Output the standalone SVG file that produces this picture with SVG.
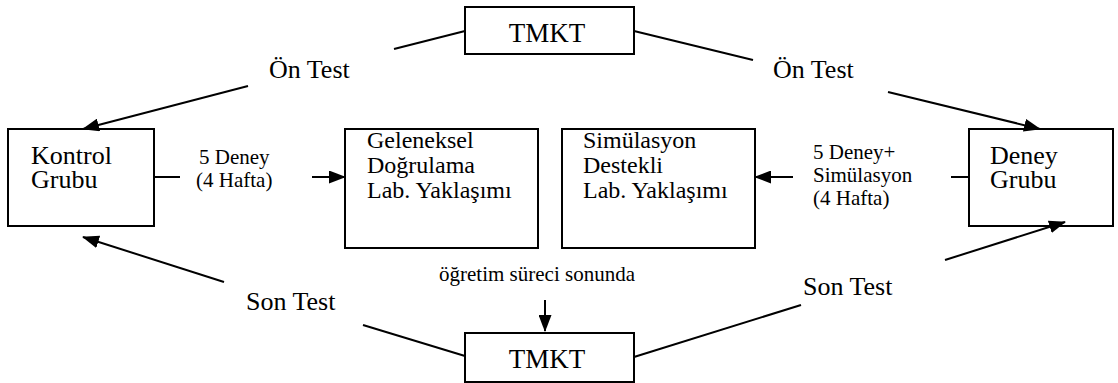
<svg xmlns="http://www.w3.org/2000/svg" width="1118" height="383" viewBox="0 0 1118 383">
  <style>
    .box { fill: #ffffff; stroke: #000000; stroke-width: 2; }
    text { font-family: "Liberation Serif", "Times New Roman", serif; fill: #000000; }
    .big { font-size: 26px; }
    .mid { font-size: 24px; }
    .sml { font-size: 21px; }
    .tm { font-size: 27px; }
    .ln { fill: none; stroke: #000000; stroke-width: 2; }
    .arr { fill: none; stroke: #000000; stroke-width: 2; marker-end: url(#head); }
  </style>
  <defs>
    <!-- solid triangular arrowhead -->
    <marker id="head" markerUnits="userSpaceOnUse" markerWidth="17" markerHeight="13" refX="16" refY="6.5" orient="auto">
      <path d="M0,0 L17,6.5 L0,13 z" fill="#000000"/>
    </marker>
  </defs>

  <rect width="1118" height="383" fill="#ffffff"/>

  <!-- pre-test TMKT -->
  <g id="tmkt-top">
    <rect class="box" x="465" y="7" width="169" height="47"/>
    <text class="tm" x="547" y="42" text-anchor="middle">TMKT</text>
  </g>

  <!-- control group -->
  <g id="kontrol">
    <rect class="box" x="8" y="129" width="146" height="97"/>
    <text class="big" x="31" y="164">Kontrol</text>
    <text class="big" x="31" y="188">Grubu</text>
  </g>

  <!-- conventional lab approach -->
  <g id="geleneksel">
    <rect class="box" x="345" y="129" width="193" height="119"/>
    <text class="mid" x="367" y="148">Geleneksel</text>
    <text class="mid" x="367" y="173">Doğrulama</text>
    <text class="mid" x="367" y="198">Lab. Yaklaşımı</text>
  </g>

  <!-- simulation-supported lab approach -->
  <g id="simulasyon">
    <rect class="box" x="562" y="129" width="193" height="119"/>
    <text class="mid" x="583" y="148">Simülasyon</text>
    <text class="mid" x="583" y="173">Destekli</text>
    <text class="mid" x="583" y="198">Lab. Yaklaşımı</text>
  </g>

  <!-- experiment group -->
  <g id="deney">
    <rect class="box" x="969" y="129" width="144" height="97"/>
    <text class="big" x="990" y="164">Deney</text>
    <text class="big" x="990" y="188">Grubu</text>
  </g>

  <!-- post-test TMKT -->
  <g id="tmkt-bottom">
    <rect class="box" x="465" y="333" width="169" height="49"/>
    <text class="tm" x="547" y="368" text-anchor="middle">TMKT</text>
  </g>

  <!-- connectors and their labels -->
  <g id="connectors">
    <!-- pre-test, left branch -->
    <line class="ln" x1="465" y1="31" x2="394" y2="49"/>
    <text class="big" x="269" y="78">Ön Test</text>
    <line class="arr" x1="248" y1="86" x2="83" y2="129"/>

    <!-- pre-test, right branch -->
    <line class="ln" x1="634" y1="31" x2="753" y2="60"/>
    <text class="big" x="773" y="78">Ön Test</text>
    <line class="arr" x1="888" y1="92" x2="1040" y2="129"/>

    <!-- control group to conventional lab -->
    <line class="ln" x1="154" y1="177" x2="180" y2="177"/>
    <text class="sml" x="199" y="164">5 Deney</text>
    <text class="sml" x="196" y="187">(4 Hafta)</text>
    <line class="arr" x1="312" y1="177" x2="345" y2="177"/>

    <!-- experiment group to simulation lab -->
    <line class="ln" x1="969" y1="177" x2="951" y2="177"/>
    <text class="sml" x="813" y="159">5 Deney+</text>
    <text class="sml" x="813" y="182">Simülasyon</text>
    <text class="sml" x="813" y="205">(4 Hafta)</text>
    <line class="arr" x1="793" y1="177" x2="755" y2="177"/>

    <!-- end of instruction to post-test -->
    <text class="sml" x="537" y="281" text-anchor="middle">öğretim süreci sonunda</text>
    <line class="arr" x1="545" y1="300" x2="545" y2="331"/>

    <!-- post-test, left branch -->
    <line class="ln" x1="465" y1="356" x2="363" y2="325"/>
    <text class="big" x="246" y="310">Son Test</text>
    <line class="arr" x1="224" y1="282" x2="83" y2="237"/>

    <!-- post-test, right branch -->
    <line class="ln" x1="634" y1="357" x2="801" y2="305"/>
    <text class="big" x="803" y="295">Son Test</text>
    <line class="arr" x1="945" y1="260" x2="1065" y2="222"/>
  </g>
</svg>
